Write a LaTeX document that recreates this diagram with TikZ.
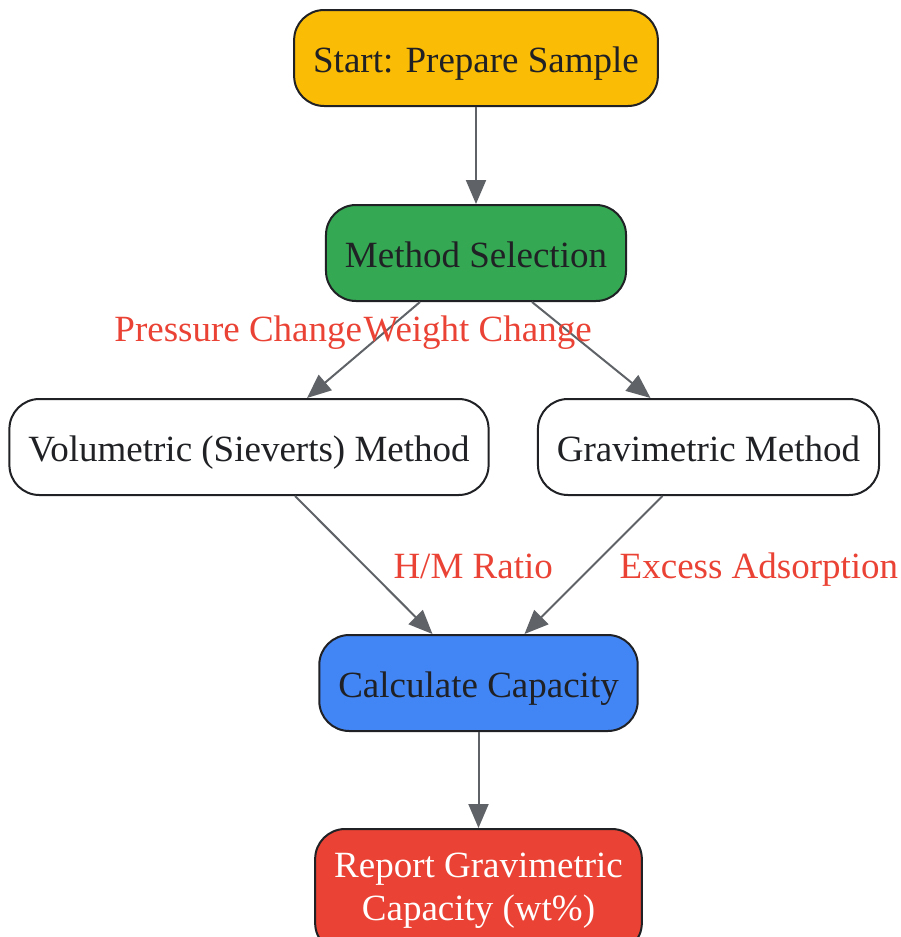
\documentclass[tikz,border=0pt]{standalone}
\usepackage{fontspec}
\setmainfont{Liberation Serif}
\usetikzlibrary{positioning}
\usetikzlibrary{arrows.meta}
\definecolor{stepyellow}{HTML}{FBBC05}
\definecolor{stepgreen}{HTML}{34A853}
\definecolor{stepblue}{HTML}{4285F4}
\definecolor{stepred}{HTML}{EA4335}
\definecolor{inkdark}{HTML}{202124}
\definecolor{edgegray}{HTML}{5F6368}
\tikzset{x=1pt, y=-1pt,
every node/.style={font=\fontsize{37}{43}\selectfont},
stepbox/.style={ % Sets the properties for each box
draw=inkdark,
line width=2pt,
rounded corners=30pt,
fill=white,
text=inkdark,
inner xsep=19pt,
text height=30pt,
text depth=2pt,
minimum height=96pt,
align=center},
flow/.style={ % Sets the properties for each connector
draw=edgegray,
line width=2pt,
-{Triangle[length=24pt,width=20pt]}},
elabel/.style={ % Labels on connectors
text=stepred,
text height=27pt,
text depth=5pt,
inner sep=0pt}}
\begin{document}
\begin{tikzpicture}
\useasboundingbox (0,0) rectangle (900,937);
\node[stepbox, fill=stepyellow] (start) at (476,58) {Start: Prepare Sample};
\node[stepbox, fill=stepgreen] (method) at (476,253) {Method Selection};
\node[stepbox] (volu) at (249,447) {Volumetric (Sieverts) Method};
\node[stepbox] (grav) at (708.5,447) {Gravimetric Method};
\node[stepbox, fill=stepblue] (calc) at (478.5,683) {Calculate Capacity};
\node[stepbox, fill=stepred, text=white, text height=, text depth=, minimum height=124pt] (report) at (478.5,891) {Report Gravimetric\\Capacity (wt\%)};
\draw[flow] (start) -- (method);
\draw[flow] ([xshift=-56pt]method.south) -- ([xshift=58pt]volu.north)
  node[elabel, pos=0.3, anchor=east, xshift=-23pt] {Pressure Change};
\draw[flow] ([xshift=56pt]method.south) -- ([xshift=-58pt]grav.north)
  node[elabel, pos=0.3, anchor=west, xshift=-205pt] {Weight Change};
\draw[flow] ([xshift=46pt]volu.south) -- ([xshift=-46pt]calc.north)
  node[elabel, pos=0.52, anchor=west, xshift=26pt] {H/M Ratio};
\draw[flow] ([xshift=-46pt]grav.south) -- ([xshift=46pt]calc.north)
  node[elabel, pos=0.52, anchor=west, xshift=28pt] {Excess Adsorption};
\draw[flow] (calc) -- (report);
\end{tikzpicture}
\end{document}
